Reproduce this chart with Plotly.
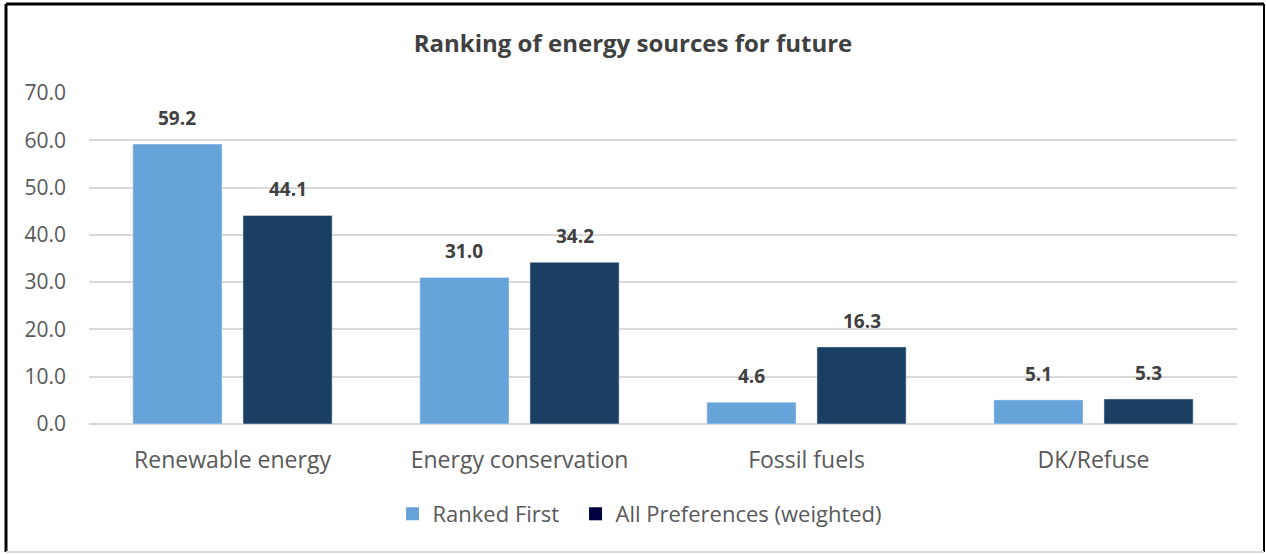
import plotly.graph_objects as go

categories = ["Renewable energy", "Energy conservation", "Fossil fuels", "DK/Refuse"]
ranked_first = [59.2, 31.0, 4.6, 5.1]
all_prefs = [44.1, 34.2, 16.3, 5.3]
y_ticks = [0, 10, 20, 30, 40, 50, 60, 70]

LIGHT = "#66A3D9"
DARK = "#1B3F62"
LEGEND_DARK = "#02023F"
FONT = "'Open Sans', sans-serif"

W, H = 1266, 554
L, R, T, B = 89, 1237, 93, 424
pw, ph = R - L, B - T

BARGAP = 0.233
BARGROUPGAP = 0.19

fig = go.Figure()
series = [("Ranked First", ranked_first, LIGHT), ("All Preferences (weighted)", all_prefs, DARK)]
for name, vals, col in series:
    fig.add_trace(go.Bar(x=categories, y=vals, name=name, marker_color=col, showlegend=False))

# data labels as annotations, offset to the bar slot centres
slot = (1 - BARGAP) / len(series) * pw / len(categories)
for i, (name, vals, col) in enumerate(series):
    shift = (i - (len(series) - 1) / 2) * slot
    for c, v in zip(categories, vals):
        fig.add_annotation(
            x=c, y=v, text=f"<b>{v:.1f}</b>", showarrow=False,
            xshift=shift, yshift=11, yanchor="bottom",
            font=dict(size=19, color="#404040", family=FONT),
        )

# legend entries (non-breaking spaces widen the gap after the first entry)
legend_items = [("Ranked First" + "\u00a0\u00a0", LIGHT), ("All Preferences (weighted)", LEGEND_DARK)]
for name, col in legend_items:
    fig.add_trace(go.Scatter(
        x=[None], y=[None], mode="markers", name=name,
        marker=dict(symbol="square", size=13, color=col),
    ))


def px(x):
    return (x - L) / pw


def py(y):
    return (B - y) / ph


fig.update_layout(
    width=W, height=H,
    margin=dict(l=L, r=W - R, t=T, b=H - B),
    paper_bgcolor="white", plot_bgcolor="white",
    barmode="group", bargap=BARGAP, bargroupgap=BARGROUPGAP,
    font=dict(family=FONT, color="#595959"),
    title=dict(
        text="<b>Ranking of energy sources for future</b>",
        x=0.5, xanchor="center", y=1 - 44 / H, yanchor="middle",
        font=dict(size=24, color="#404040", family=FONT),
    ),
    xaxis=dict(
        tickfont=dict(size=23, color="#595959"), showgrid=False,
        showline=False, ticks="", ticklabelstandoff=20,
    ),
    yaxis=dict(
        range=[0, 70], tickvals=y_ticks, tickformat=".1f",
        tickfont=dict(size=21, color="#595959"),
        showgrid=True, gridcolor="#D9D9D9", gridwidth=1.5,
        zeroline=True, zerolinecolor="#D9D9D9", zerolinewidth=1.5,
        ticks="", ticklabelstandoff=22,
    ),
    legend=dict(
        orientation="h", x=px(640), xanchor="center", y=py(514), yanchor="middle",
        font=dict(size=22, color="#595959"), itemwidth=30,
    ),
    shapes=[
        dict(type="line", xref="paper", yref="paper", x0=px(6), x1=px(6), y0=py(4), y1=py(552),
             line=dict(color="black", width=3)),
        dict(type="line", xref="paper", yref="paper", x0=px(6), x1=px(1264), y0=py(4), y1=py(4),
             line=dict(color="black", width=3)),
        dict(type="line", xref="paper", yref="paper", x0=px(1264), x1=px(1264), y0=py(4), y1=py(552),
             line=dict(color="black", width=2)),
        dict(type="line", xref="paper", yref="paper", x0=px(6), x1=px(1264), y0=py(552), y1=py(552),
             line=dict(color="#D9D9D9", width=2)),
    ],
)

fig.write_html(
    "out.html",
    config={"displayModeBar": False},
    post_script="document.body.style.margin='0';document.body.style.overflow='hidden';",
)
